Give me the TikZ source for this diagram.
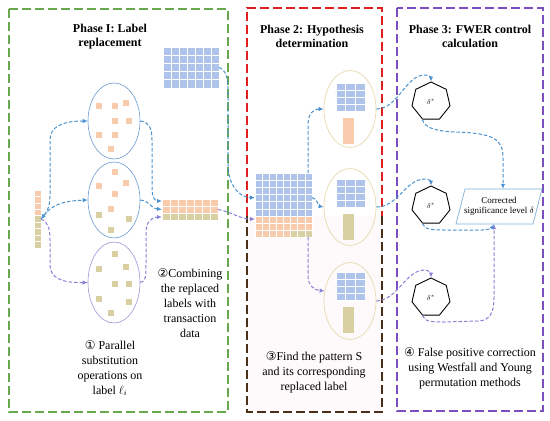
\documentclass[tikz,border=0pt]{standalone}
\usepackage{fontspec}
\setmainfont{Liberation Serif}
\newfontfamily\symf{DejaVu Sans}
\usetikzlibrary{arrows.meta,shapes.geometric,calc}
\definecolor{cblue}{HTML}{AFC4EA}
\definecolor{corange}{HTML}{F8CBAD}
\definecolor{ctan}{HTML}{D8D0A2}
\definecolor{arrblue}{HTML}{4A92CF}
\definecolor{arrpurple}{HTML}{8681D6}
\definecolor{ellblue}{HTML}{6C9BD2}
\definecolor{ellpurple}{HTML}{9A98D8}
\definecolor{ellbeige}{HTML}{E6D9AC}
\definecolor{pgreen}{HTML}{6AA84F}
\definecolor{pred}{HTML}{E02020}
\definecolor{pbrown}{HTML}{4A3018}
\definecolor{ppurple}{HTML}{7B4FC0}
\definecolor{parblue}{HTML}{7FAFD8}
\definecolor{faintpink}{HTML}{FEF9FB}
\newcommand{\cellgrid}[8]{%
  \node[gridcell, fill=#8, minimum width={#4*#6}, minimum height={#5*#7}] (#1) at (#2,#3) {};
  \foreach \ii in {0,...,#4}{\draw[gridline] ({#2+\ii*#6},#3) -- ({#2+\ii*#6},{#3+#5*#7});}
  \foreach \jj in {0,...,#5}{\draw[gridline] (#2,{#3+\jj*#7}) -- ({#2+#4*#6},{#3+\jj*#7});}
}
\newcommand{\sqr}[3]{\fill[#3] ({#1-3},{#2-3}) rectangle ({#1+3},{#2+3});}
\begin{document}
\begin{tikzpicture}[x=1pt,y=-1pt,
  gridcell/.style={inner sep=0pt, outer sep=0pt, anchor=north west, draw=none},
  gridline/.style={draw=white, line width=0.7pt},
  phasebox/.style={line width=1.2pt, dash pattern=on 9pt off 4pt},
  barr/.style={draw=arrblue, line width=1pt, dash pattern=on 3.5pt off 2pt, -{Latex[length=5pt,width=4.5pt]}},
  parr/.style={barr, draw=arrpurple},
  ell1/.style={ellipse, draw=ellblue, line width=0.6pt, minimum width=52, minimum height=76, inner sep=0pt},
  ell2/.style={ellipse, draw=ellbeige, line width=0.7pt, minimum width=52, minimum height=77, inner sep=0pt},
  hept/.style={regular polygon, regular polygon sides=7, draw=black, line width=0.9pt, minimum size=39, inner sep=0pt, font=\fontsize{7}{8}\selectfont},
  title/.style={font=\fontsize{12}{14}\selectfont\bfseries, align=center},
  txt/.style={font=\fontsize{12}{15}\selectfont, align=center},
  rectcell/.style={inner sep=0pt, outer sep=0pt, minimum width=11, minimum height=26}
]
\useasboundingbox (0,0) rectangle (550,421);
\fill[white] (0,0) rectangle (550,421);
\fill[faintpink] (248,216) rectangle (381,411);

% phase boxes
\draw[phasebox, draw=pgreen] (9,9) rectangle (228,412);
\draw[phasebox, draw=pred] (247,216) -- (247,8) -- (382,8) -- (382,216);
\draw[phasebox, draw=pbrown] (382,216) -- (382,412) -- (247,412) -- (247,216);
\draw[phasebox, draw=ppurple] (397,8) rectangle (543,411);

% titles
\node[title] (ti1) at (110,37) {Phase I: Label\\replacement};
\node[title] (ti2) at (312,36) {Phase 2: Hypothesis\\determination};
\node[title] (ti3) at (470,36) {Phase 3: FWER control\\calculation};

% phase 1
\cellgrid{bar}{34}{190}{1}{9}{7}{6.45}{ctan}
\cellgrid{baro}{34}{190}{1}{4}{7}{6.45}{corange}

\node[ell1] (e1) at (114,121) {};
\node[ell1] (e2) at (114,200) {};
\node[ell1, draw=ellpurple, minimum height=81] (e3) at (114,282.5) {};

\sqr{99}{106}{corange}\sqr{115}{106}{corange}\sqr{126}{103}{corange}\sqr{115}{121}{corange}
\sqr{129}{121}{corange}\sqr{99}{135}{corange}\sqr{115}{135}{corange}\sqr{111}{149}{corange}
\sqr{115}{172}{corange}\sqr{126}{183}{corange}\sqr{99}{186}{corange}\sqr{115}{194}{corange}
\sqr{111}{209}{corange}\sqr{99}{215}{ctan}\sqr{129}{219}{ctan}\sqr{111}{230}{ctan}
\sqr{115}{254}{ctan}\sqr{126}{267}{ctan}\sqr{99}{269}{ctan}\sqr{115}{284}{ctan}
\sqr{129}{284}{ctan}\sqr{99}{299}{ctan}\sqr{129}{302}{ctan}\sqr{111}{313}{ctan}

\cellgrid{bg}{163}{47}{7}{5}{8}{8.2}{cblue}
\cellgrid{og}{162}{199}{7}{3}{8}{7}{corange}
\cellgrid{ogt}{162}{213}{7}{1}{8}{7}{ctan}

% phase 2
\cellgrid{bigb}{255}{173}{8}{6}{7.125}{7.17}{cblue}
\cellgrid{bigo}{255}{216}{8}{3}{7.125}{7}{corange}
\cellgrid{bigt}{290.6}{230}{3}{1}{7.125}{7}{ctan}

\node[ell2] (f1) at (350,109) {};
\node[ell2] (f2) at (350,207) {};
\node[ell2] (f3) at (350,301) {};
\cellgrid{fg1}{336}{83}{3}{4}{9.667}{7}{cblue}
\cellgrid{fg2}{336}{179}{3}{4}{9.667}{7}{cblue}
\cellgrid{fg3}{336}{272}{3}{4}{9.667}{7}{cblue}
\node[rectcell, fill=corange] (fr1) at (348.5,131) {};
\node[rectcell, fill=ctan] (fr2) at (348.5,227) {};
\node[rectcell, fill=ctan] (fr3) at (348.5,320) {};

% phase 3
\node[hept] (h1) at (431,101.5) {$\delta^{*}$};
\node[hept] (h2) at (431,205.5) {$\delta^{*}$};
\node[hept] (h3) at (431,297.5) {$\delta^{*}$};
\draw[draw=parblue, line width=0.7pt] (465,189) -- (542,189) -- (533,224) -- (456,224) -- cycle;
\node[font=\fontsize{9}{10.5}\selectfont, align=center, inner sep=0pt, minimum width=77, minimum height=35] (par) at (499,206.5) {Corrected\\significance level $\delta$};

% texts
\node[txt] (t1) at (110,368) {{\symf ①} Parallel\\substitution\\operations on\\label $\ell_i$};
\node[txt] (t2) at (190,303) {{\symf ②}Combining\\the replaced\\labels with\\transaction\\data};
\node[txt] (t3) at (314,372) {{\symf ③}Find the pattern S\\and its corresponding\\replaced label};
\node[txt] (t4) at (470,368) {{\symf ④} False positive correction\\using Westfall and Young\\permutation methods};

% arrows phase 1
\draw[barr] (bar.east) .. controls (48,212) and (50,205) .. (50,195) -- (50,140) .. controls (50,127) and (62,121) .. (e1.west);
\draw[barr, {Latex[length=5pt,width=4.5pt]}-{Latex[length=5pt,width=4.5pt]}] (bar.east) .. controls (52,205) and (62,201) .. (e2.west);
\draw[parr] (bar.east) .. controls (48,222) and (50,228) .. (50,240) -- (50,265) .. controls (50,278) and (62,283) .. (e3.west);

\draw[barr] (e1.east) .. controls (149,122) and (152,128) .. (152,140) -- (152,188) .. controls (152,197) and (155,201) .. ($(og.north west)+(0,2)$);
\draw[barr] (e2.east) .. controls (150,201) and (150,208) .. (og.west);
\draw[parr] (e3.east) .. controls (146,282) and (146,275) .. (146,265) -- (146,232) .. controls (146,222) and (152,217) .. ($(og.south west)+(0,-3)$);

\draw[barr] (bg.east) .. controls (226,70) and (228,78) .. (228,90) -- (228,165) .. controls (228,185) and (240,198) .. ($(bigb.west)+(0,3)$);
\draw[parr] (og.east) .. controls (232,212) and (240,219) .. ($(bigo.north west)+(0,3)$);

% arrows phase 2
\draw[barr] ($(bigb.north east)+(-4,0)$) -- (308,125) .. controls (308,113) and (314,109) .. (f1.west);
\draw[barr] ($(bigb.east)+(0,3)$) .. controls (318,199) and (318,206) .. (f2.west);
\draw[parr] ($(bigo.south east)+(-4,0)$) -- (308,275) .. controls (308,286) and (314,290) .. ($(f3.west)+(1,-10)$);

\draw[barr] (f1.east) .. controls (398,109) and (405,76) .. (424,75) .. controls (429,75) and (431,77) .. (h1.north);
\draw[barr] (f2.east) .. controls (398,207) and (405,180) .. (424,179) .. controls (429,179) and (431,181) .. (h2.north);
\draw[parr] (f3.east) .. controls (398,300) and (405,271) .. (424,270) .. controls (429,270) and (431,273) .. (h3.north);

% arrows phase 3
\draw[barr] (h1.corner 4) .. controls (425,128) and (435,131) .. (455,132) .. controls (495,133) and (503,140) .. (503,158) -- ($(par.north)+(4,0)$);
\draw[barr] (h2.corner 4) .. controls (425,230) and (432,230) .. (445,230) -- (482,230) .. controls (488,230) and (492,228) .. ($(par.south)+(-5,0)$);
\draw[parr] (h3.corner 4) .. controls (425,322) and (432,322) .. (445,322) -- (478,321) .. controls (490,321) and (494,312) .. (494,298) -- ($(par.south)+(-5,0)$);
\end{tikzpicture}
\end{document}
